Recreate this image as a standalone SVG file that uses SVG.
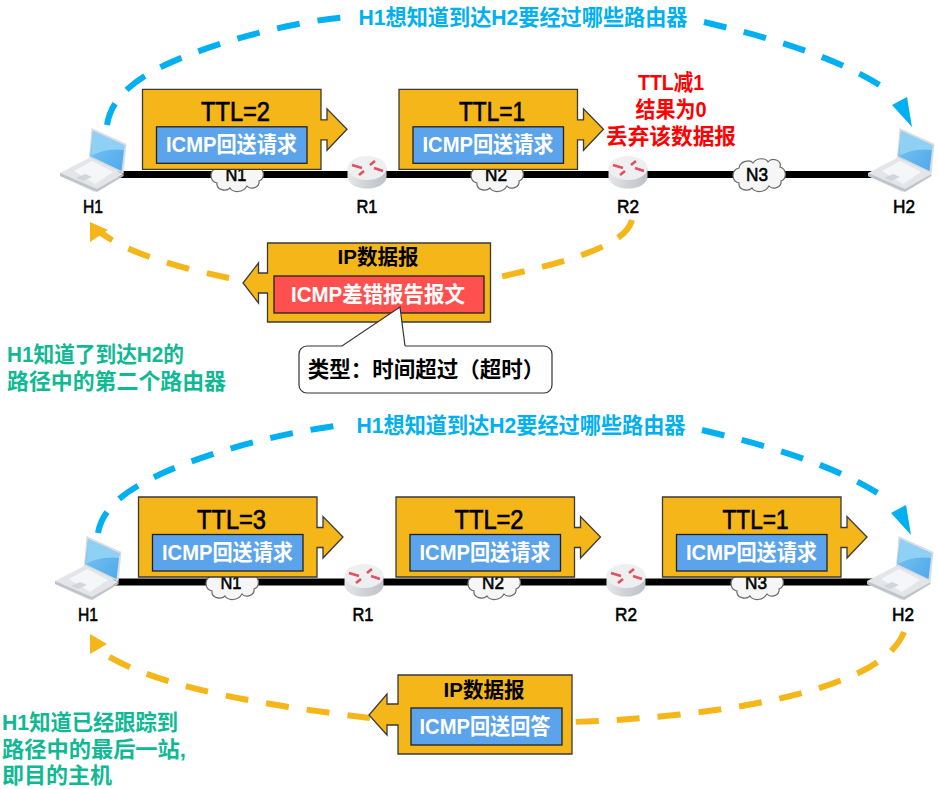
<svg xmlns="http://www.w3.org/2000/svg" width="938" height="789" viewBox="0 0 938 789">
<style>
text{font-family:"Liberation Sans","Noto Sans CJK SC",sans-serif;text-anchor:middle;font-weight:700}
.ttl{font-size:28px;font-weight:400;stroke:#000;stroke-width:.7px}
.msg{font-size:22px;fill:#fff}
.lbl{font-size:19px;font-weight:400;stroke:#000;stroke-width:.6px}
.ip{font-size:21px}
.blue{font-size:22px;fill:#00B0F0}
.red{font-size:22px;fill:#FF0000}
.green{font-size:22px;fill:#10B994;text-anchor:start}
.box{fill:#F4B618;stroke:#3a3a3a;stroke-width:1.3}
.in{fill:#5BA3EA;stroke:#222;stroke-width:1.3}
.bd{fill:none;stroke:#00B0F0;stroke-width:6;stroke-dasharray:23 18}
.od{fill:none;stroke:#F4B618;stroke-width:6;stroke-dasharray:23 18}
.net{stroke:#000;stroke-width:7}
</style>
<defs>
<linearGradient id="rg" x1="0" y1="0" x2="1" y2="0"><stop offset="0" stop-color="#e6e7ea"/><stop offset=".5" stop-color="#cfd1d6"/><stop offset="1" stop-color="#bfc2c8"/></linearGradient>
<linearGradient id="sc" x1="0" y1="0" x2="1" y2="1"><stop offset="0" stop-color="#7cc6f3"/><stop offset="1" stop-color="#4fa9ea"/></linearGradient>
<symbol id="laptop" viewBox="0 0 67 64" width="67" height="64" overflow="visible">
<polygon points="31.5,0 66.5,16 63.5,46 29,30" fill="#d9dce1"/>
<polygon points="33,3 64.5,17.5 61.5,43 30,28" fill="url(#sc)"/>
<path d="M33,3 L64.5,17.5 L64,22 C50,20 38,24 31,28 Z" fill="#8fd0f5"/>
<polygon points="0,45 29,30 63.5,46 37,62 34,64 0,48" fill="#e3e5e9"/>
<polygon points="14,43 32,33 53,44 35,56" fill="#f5f6f8"/>
<polygon points="0,45 37,61 63.5,46 63.5,48 37,64 0,48" fill="#bfc3ca"/>
<polygon points="16,50 25,46 32,49 23,53" fill="#d2d5da"/>
</symbol>
<symbol id="router" viewBox="-20 -17 40 34" width="40" height="34" overflow="visible">
<path d="M-19.5,-4 V5 A19.5,11.5 0 0 0 19.5,5 V-4 Z" fill="url(#rg)"/>
<ellipse cx="0" cy="-4" rx="19.5" ry="12" fill="#eeeff1"/>
<path d="M-15,-7 L-5,-4 M-8,3 L-3,-1 M3,-7 L8,-11 M7,-4 L16,-1" stroke="#E0505E" stroke-width="2.600" fill="none"/>
</symbol>
<symbol id="cloud" viewBox="-28 -19 56 38" width="56" height="38" overflow="visible">
<path d="M-20,-7 C-19,-14 -9,-16 -6,-12 C-2,-18 7,-17 9,-13 C13,-18 23,-15 21,-8 C28,-6 28,4 22,6 C23,13 13,15 10,11 C6,18 -4,18 -7,13 C-11,17 -21,15 -20,8 C-28,6 -28,-5 -20,-7 Z" fill="#f6f6f6" stroke="#6a6a6a" stroke-width="1.2"/>
</symbol>
<path id="pkt" d="M0,0 H178.500 V30.500 H184.500 V19.500 L204.500,40 L184.500,61 V50.500 H178.500 V80 H0 Z"/>
</defs>

<g id="connectors">
<line class="net" x1="118" y1="174.500" x2="872" y2="174.500"/>
<line class="net" x1="113" y1="582" x2="875" y2="582"/>
<path class="bd" d="M107,125 C111,100 130,82 165,65 C215,42 290,22 347,17"/>
<path class="bd" d="M704,22 C762,36 832,54 886,89"/>
<polygon points="912,127 892,105 907,97" fill="#00B0F0"/>
<path class="bd" d="M98,533 C103,505 130,488 165,472 C215,450 285,432 343,425"/>
<path class="bd" d="M702,430 C760,444 830,462 884,497"/>
<polygon points="911,535 891,513 906,505" fill="#00B0F0"/>
<path class="od" d="M632,220 C626,245 570,262 490,279"/>
<path class="od" d="M229,278 C185,269 130,255 100,232"/>
<polygon points="90,222 90,242 108,230" fill="#F4B618"/>
<path class="od" d="M904,632 C880,695 700,718 572,722"/>
<path class="od" d="M370,718 C280,707 160,690 103,653"/>
<polygon points="90,634 90,654 107,644" fill="#F4B618"/>
</g>

<g id="top-N1"><use href="#cloud" x="209" y="156"/><text class="lbl" x="236" y="181" textLength="21" lengthAdjust="spacingAndGlyphs">N1</text></g>
<g id="top-N2"><use href="#cloud" x="469" y="156"/><text class="lbl" x="496" y="181" textLength="22" lengthAdjust="spacingAndGlyphs">N2</text></g>
<g id="top-N3"><use href="#cloud" x="731" y="156"/><text class="lbl" x="757" y="181" textLength="22" lengthAdjust="spacingAndGlyphs">N3</text></g>
<g id="top-R1"><use href="#router" x="347" y="155"/><text class="lbl" x="367" y="213" textLength="21" lengthAdjust="spacingAndGlyphs">R1</text></g>
<g id="top-R2"><use href="#router" x="608" y="155"/><text class="lbl" x="628" y="213" textLength="22" lengthAdjust="spacingAndGlyphs">R2</text></g>
<g id="top-H1"><use href="#laptop" x="60" y="128"/><text class="lbl" x="93" y="213" textLength="20" lengthAdjust="spacingAndGlyphs">H1</text></g>
<g id="top-H2"><use href="#laptop" x="868" y="128"/><text class="lbl" x="904" y="213" textLength="22" lengthAdjust="spacingAndGlyphs">H2</text></g>

<g id="bot-N1"><use href="#cloud" x="204" y="564"/><text class="lbl" x="231" y="589" textLength="21" lengthAdjust="spacingAndGlyphs">N1</text></g>
<g id="bot-N2"><use href="#cloud" x="466" y="564"/><text class="lbl" x="493" y="589" textLength="22" lengthAdjust="spacingAndGlyphs">N2</text></g>
<g id="bot-N3"><use href="#cloud" x="729" y="564"/><text class="lbl" x="756" y="589" textLength="22" lengthAdjust="spacingAndGlyphs">N3</text></g>
<g id="bot-R1"><use href="#router" x="344" y="563"/><text class="lbl" x="363" y="621" textLength="21" lengthAdjust="spacingAndGlyphs">R1</text></g>
<g id="bot-R2"><use href="#router" x="606" y="563"/><text class="lbl" x="626" y="621" textLength="22" lengthAdjust="spacingAndGlyphs">R2</text></g>
<g id="bot-H1"><use href="#laptop" x="55" y="536"/><text class="lbl" x="88" y="621" textLength="20" lengthAdjust="spacingAndGlyphs">H1</text></g>
<g id="bot-H2"><use href="#laptop" x="867" y="536"/><text class="lbl" x="903" y="621" textLength="22" lengthAdjust="spacingAndGlyphs">H2</text></g>

<g id="pkt-top-1" transform="translate(142.500 89.300)"><use href="#pkt" class="box"/><rect class="in" x="14" y="37.500" width="150.500" height="36.500"/><text class="ttl" x="93" y="31.500" textLength="69" lengthAdjust="spacingAndGlyphs">TTL=2</text><text class="msg" x="89" y="62.500" textLength="131" lengthAdjust="spacingAndGlyphs">ICMP回送请求</text></g>
<g id="pkt-top-2" transform="translate(399 89.300)"><use href="#pkt" class="box"/><rect class="in" x="14" y="37.500" width="150.500" height="36.500"/><text class="ttl" x="93" y="31.500" textLength="66" lengthAdjust="spacingAndGlyphs">TTL=1</text><text class="msg" x="89" y="62.500" textLength="131" lengthAdjust="spacingAndGlyphs">ICMP回送请求</text></g>
<g id="pkt-bot-1" transform="translate(138.500 497)"><use href="#pkt" class="box"/><rect class="in" x="14" y="37.500" width="150.500" height="36.500"/><text class="ttl" x="93" y="31.500" textLength="69" lengthAdjust="spacingAndGlyphs">TTL=3</text><text class="msg" x="89" y="62.500" textLength="131" lengthAdjust="spacingAndGlyphs">ICMP回送请求</text></g>
<g id="pkt-bot-2" transform="translate(396 497)"><use href="#pkt" class="box"/><rect class="in" x="14" y="37.500" width="150.500" height="36.500"/><text class="ttl" x="93" y="31.500" textLength="69" lengthAdjust="spacingAndGlyphs">TTL=2</text><text class="msg" x="89" y="62.500" textLength="131" lengthAdjust="spacingAndGlyphs">ICMP回送请求</text></g>
<g id="pkt-bot-3" transform="translate(662.500 497)"><use href="#pkt" class="box"/><rect class="in" x="14" y="37.500" width="150.500" height="36.500"/><text class="ttl" x="93" y="31.500" textLength="66" lengthAdjust="spacingAndGlyphs">TTL=1</text><text class="msg" x="89" y="62.500" textLength="131" lengthAdjust="spacingAndGlyphs">ICMP回送请求</text></g>

<g id="pkt-error">
<path class="box" d="M267.500,243 H490.500 V322 H267.500 V293 H258.500 V303 L243,283 L258.500,263 V273 H267.500 Z"/>
<rect x="274" y="276" width="210" height="37" fill="#FF5050" stroke="#222" stroke-width="1.3"/>
<text class="ip" x="378" y="264" textLength="81" lengthAdjust="spacingAndGlyphs">IP数据报</text>
<text class="msg" x="378" y="302" textLength="174" lengthAdjust="spacingAndGlyphs">ICMP差错报告报文</text>
</g>
<g id="callout">
<path d="M307,346 H342 L400,307 L405,346 H544 A8,8 0 0 1 552,354 V385 A8,8 0 0 1 544,393 H307 A8,8 0 0 1 299,385 V354 A8,8 0 0 1 307,346 Z" fill="#fff" stroke="none"/>
<path d="M405,346 L400,307 L342,346 H307 A8,8 0 0 0 299,354 V385 A8,8 0 0 0 307,393 H544 A8,8 0 0 0 552,385 V354 A8,8 0 0 0 544,346 H405" fill="none" stroke="#333" stroke-width="1.2"/>
<text x="426" y="377" font-size="21.500">类型：时间超过（超时）</text>
</g>

<g id="pkt-reply">
<path class="box" d="M398,675 H572 V754 H398 V725 H387 V735 L369,715 L387,694 V704 H398 Z"/>
<rect class="in" x="411" y="708" width="151" height="37"/>
<text class="ip" x="484" y="697" textLength="81" lengthAdjust="spacingAndGlyphs">IP数据报</text>
<text class="msg" x="485" y="734" textLength="131" lengthAdjust="spacingAndGlyphs">ICMP回送回答</text>
</g>

<g id="labels">
<text class="blue" x="523" y="25" textLength="329" lengthAdjust="spacingAndGlyphs">H1想知道到达H2要经过哪些路由器</text>
<text class="blue" x="521" y="433" textLength="329" lengthAdjust="spacingAndGlyphs">H1想知道到达H2要经过哪些路由器</text>
<text class="red" x="671" y="90" textLength="66" lengthAdjust="spacingAndGlyphs">TTL减1</text>
<text class="red" x="671" y="117" textLength="71" lengthAdjust="spacingAndGlyphs">结果为0</text>
<text class="red" x="671" y="144" textLength="130" lengthAdjust="spacingAndGlyphs">丢弃该数据报</text>
<text class="green" x="7" y="362" textLength="177" lengthAdjust="spacingAndGlyphs">H1知道了到达H2的</text>
<text class="green" x="7" y="389" textLength="219" lengthAdjust="spacingAndGlyphs">路径中的第二个路由器</text>
<text class="green" x="2" y="730" textLength="176" lengthAdjust="spacingAndGlyphs">H1知道已经跟踪到</text>
<text class="green" x="2" y="757" textLength="184" lengthAdjust="spacingAndGlyphs">路径中的最后一站,</text>
<text class="green" x="2" y="783" textLength="110" lengthAdjust="spacingAndGlyphs">即目的主机</text>
</g>
</svg>
